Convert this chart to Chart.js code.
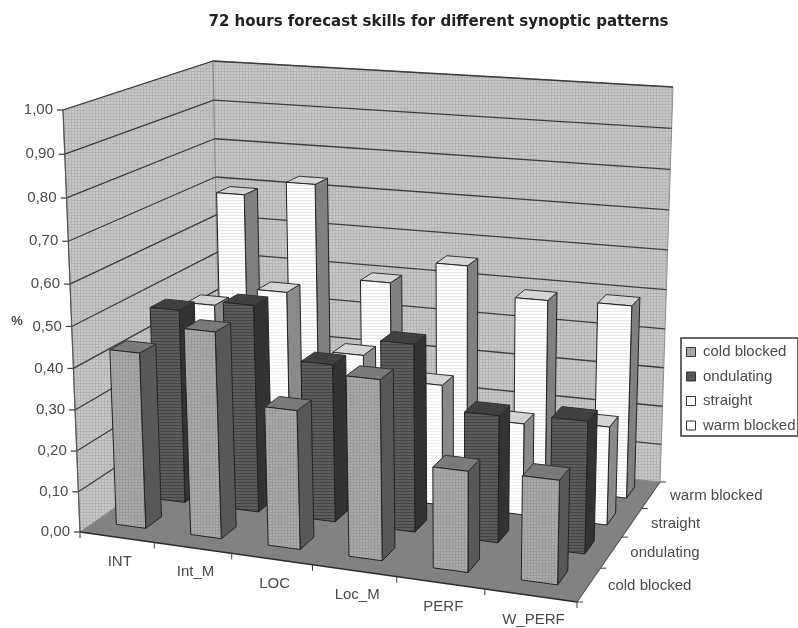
<!DOCTYPE html>
<html>
<head>
<meta charset="utf-8">
<script src="https://cdn.jsdelivr.net/npm/chart.js@4"></script>
<style>
  html, body { margin: 0; background: #fff; }
  canvas { display: block; filter: blur(0.45px); }
</style>
</head>
<body>
<canvas id="grafica" width="798" height="628"></canvas>
<script>
const categories = ['INT', 'Int_M', 'LOC', 'Loc_M', 'PERF', 'W_PERF'];
const patterns = ['cold blocked', 'ondulating', 'straight', 'warm blocked'];
const coldBlocked = [0.43, 0.5, 0.335, 0.43, 0.24, 0.245];
const ondulating = [0.485, 0.515, 0.39, 0.46, 0.31, 0.32];
const straight = [0.45, 0.5, 0.36, 0.305, 0.23, 0.245];
const warmBlocked = [0.69, 0.73, 0.495, 0.555, 0.485, 0.49];
const seriesValues = [coldBlocked, ondulating, straight, warmBlocked];

// face, side, top
const colores = [
  ['#a6a6a6', '#585858', '#7a7a7a'],
  ['#565656', '#333333', '#404040'],
  ['#ffffff', '#8a8a8a', '#d4d4d4'],
  ['#ffffff', '#808080', '#d4d4d4']
];
const desvioFila = [-0.004, 0.004, 0.006, 0.006];

// box corners: front left, front right, back right, back left
const suelo = [[80, 532], [577, 602], [660, 482], [221, 434]];
const techo = [[63, 110], [587, 150], [673, 87], [213, 61]];
const perspectiva = -0.0507;

function homografia(quad) {
  const [[x0, y0], [x1, y1], [x2, y2], [x3, y3]] = quad;
  const dx1 = x1 - x2, dx2 = x3 - x2, sx = x0 - x1 + x2 - x3;
  const dy1 = y1 - y2, dy2 = y3 - y2, sy = y0 - y1 + y2 - y3;
  const det = dx1 * dy2 - dx2 * dy1;
  const g = (sx * dy2 - dx2 * sy) / det;
  const h = (dx1 * sy - sx * dy1) / det;
  const a = x1 - x0 + g * x1, b = x3 - x0 + h * x3;
  const d = y1 - y0 + g * y1, e = y3 - y0 + h * y3;
  return (u, w) => {
    const den = g * u + h * w + 1;
    return [(a * u + b * w + x0) / den, (d * u + e * w + y0) / den];
  };
}
const enSuelo = homografia(suelo);
const enTecho = homografia(techo);

function proyectar(u, w, v) {
  const t = (1 + perspectiva) * v / (1 + perspectiva * v);
  const a = enSuelo(u, w), b = enTecho(u, w);
  return [a[0] + (b[0] - a[0]) * t, a[1] + (b[1] - a[1]) * t];
}

function textura(base, linea, malla) {
  const c = document.createElement('canvas');
  c.width = 3; c.height = 3;
  const g = c.getContext('2d');
  g.fillStyle = base;
  g.fillRect(0, 0, 3, 3);
  g.fillStyle = linea;
  g.fillRect(0, 2, 3, 1);
  if (malla) g.fillRect(2, 0, 1, 3);
  return g.createPattern(c, 'repeat');
}

function poligono(ctx, puntos, relleno, borde, grosor) {
  ctx.beginPath();
  puntos.forEach((p, n) => {
    const q = proyectar(p[0], p[1], p[2]);
    if (n === 0) ctx.moveTo(q[0], q[1]); else ctx.lineTo(q[0], q[1]);
  });
  ctx.closePath();
  if (relleno) { ctx.fillStyle = relleno; ctx.fill(); }
  if (borde) { ctx.strokeStyle = borde; ctx.lineWidth = grosor || 1; ctx.stroke(); }
}

function linea(ctx, a, b, color, grosor) {
  ctx.beginPath();
  ctx.moveTo(a[0], a[1]);
  ctx.lineTo(b[0], b[1]);
  ctx.strokeStyle = color;
  ctx.lineWidth = grosor;
  ctx.stroke();
}

const barras3d = {
  id: 'barras3d',
  afterLayout(chart) {
    // legend sits low on the right in the original, title is off centre
    const leg = chart.legend;
    const ancho = leg.right - leg.left;
    leg.left = 677; leg.right = 677 + ancho;
    const alto = leg.bottom - leg.top;
    leg.top = 335; leg.bottom = 335 + alto;
    const t = chart.titleBlock;
    const tx = 438.5 - (t.left + t.right) / 2;
    t.left += tx; t.right += tx;
  },
  beforeDatasetsDraw(chart) {
    const ctx = chart.ctx, xs = chart.scales.x, ys = chart.scales.y, area = chart.chartArea;
    const fu = i => (xs.getPixelForValue(i) - area.left) / area.width;
    const paso = fu(1) - fu(0);
    const fv = v => (area.bottom - ys.getPixelForValue(v)) / area.height;
    const nd = patterns.length;

    ctx.save();
    ctx.lineJoin = 'round';

    // walls and floor
    const pared = textura('#c9c9c9', '#b4b4b4', true);
    poligono(ctx, [[0, 0, 0], [0, 1, 0], [0, 1, 1], [0, 0, 1]], pared, '#8c8c8c', 1);
    poligono(ctx, [[0, 1, 0], [1, 1, 0], [1, 1, 1], [0, 1, 1]], pared, '#8c8c8c', 1);
    poligono(ctx, [[0, 0, 0], [1, 0, 0], [1, 1, 0], [0, 1, 0]], '#828282', null);

    // grid lines and value axis
    ctx.font = '15px "Liberation Sans"';
    ys.ticks.forEach(t => {
      const v = fv(t.value);
      if (t.value > 0) {
        const a = proyectar(0, 0, v), b = proyectar(0, 1, v), c = proyectar(1, 1, v);
        linea(ctx, a, b, '#3c3c3c', 1.3);
        linea(ctx, b, c, '#3c3c3c', 1.3);
      }
      const p = proyectar(0, 0, v);
      linea(ctx, [p[0] - 6, p[1]], p, '#3c3c3c', 1.2);
      ctx.fillStyle = '#4a4a4a';
      ctx.textAlign = 'right';
      ctx.textBaseline = 'middle';
      ctx.fillText(t.value.toFixed(2).replace('.', ','), p[0] - 10, p[1]);
    });
    linea(ctx, proyectar(0, 0, 0), proyectar(0, 0, 1), '#555555', 1.2);
    linea(ctx, proyectar(0, 0, 0), proyectar(1, 0, 0), '#2c2c2c', 1.4);
    linea(ctx, proyectar(1, 0, 0), proyectar(1, 1, 0), '#555555', 1.2);

    // tick marks and labels along the floor edges
    categories.forEach((c, i) => {
      const q = proyectar(fu(i), 0, 0);
      ctx.textAlign = 'center';
      ctx.fillStyle = '#4a4a4a';
      ctx.fillText(c, q[0] + 3, q[1] + 24.5);
    });
    for (let i = 0; i <= categories.length; i++) {
      const p = proyectar(i / categories.length, 0, 0);
      linea(ctx, p, [p[0], p[1] + 6], '#3c3c3c', 1);
    }
    patterns.forEach((nombre, j) => {
      const q = proyectar(1, (j + 0.5) / nd, 0);
      ctx.textAlign = 'left';
      ctx.fillStyle = '#4a4a4a';
      ctx.fillText(nombre, q[0] + 19, q[1] + 1);
    });
    for (let j = 0; j <= nd; j++) {
      const p = proyectar(1, j / nd, 0);
      linea(ctx, p, [p[0] + 6, p[1]], '#3c3c3c', 1);
    }

    // axis unit
    ctx.font = 'bold 13px "Liberation Sans"';
    ctx.textAlign = 'center';
    ctx.fillText('%', 17, 321);

    // bars, back row first, left to right
    const rellenos = [
      textura('#ababab', '#9a9a9a', true),
      textura('#5c5c5c', '#444444', false),
      textura('#ffffff', '#f0f0f0', false),
      textura('#ffffff', '#e8e8e8', false)
    ];
    const anchoBarra = 0.4 * paso, fondo = 0.105;
    for (let j = nd - 1; j >= 0; j--) {
      const w0 = 0.095 + 0.243 * j, w1 = w0 + fondo;
      seriesValues[j].forEach((valor, i) => {
        const u0 = fu(i) - 0.185 * paso + desvioFila[j], u1 = u0 + anchoBarra;
        const v = fv(valor);
        poligono(ctx, [[u1, w0, 0], [u1, w1, 0], [u1, w1, v], [u1, w0, v]], colores[j][1], '#222222', 1);
        poligono(ctx, [[u0, w0, v], [u1, w0, v], [u1, w1, v], [u0, w1, v]], colores[j][2], '#333333', 1);
        poligono(ctx, [[u0, w0, 0], [u1, w0, 0], [u1, w0, v], [u0, w0, v]], rellenos[j], '#222222', 1);
      });
    }

    // legend frame
    ctx.strokeStyle = '#666666';
    ctx.lineWidth = 2;
    ctx.strokeRect(681, 338, 117, 98);
    ctx.restore();
    return false;
  }
};

new Chart(document.getElementById('grafica'), {
  type: 'bar',
  data: {
    labels: categories,
    datasets: patterns.map((nombre, j) => ({
      label: nombre,
      data: seriesValues[j],
      backgroundColor: colores[j][0],
      borderColor: '#333333',
      borderWidth: 1
    }))
  },
  options: {
    responsive: false,
    animation: false,
    scales: {
      x: { display: false },
      y: { display: false, min: 0, max: 1, ticks: { stepSize: 0.1 } }
    },
    plugins: {
      tooltip: { enabled: false },
      title: {
        display: true,
        text: '72 hours forecast skills for different synoptic patterns',
        color: '#222222',
        font: { family: '"DejaVu Sans"', size: 15, weight: 'bold' },
        padding: { top: 13, bottom: 10 }
      },
      legend: {
        position: 'right',
        align: 'start',
        labels: {
          boxWidth: 9,
          boxHeight: 9,
          padding: 9.5,
          color: '#4a4a4a',
          font: { family: '"Liberation Sans"', size: 15 }
        }
      }
    }
  },
  plugins: [barras3d]
});
</script>
</body>
</html>
